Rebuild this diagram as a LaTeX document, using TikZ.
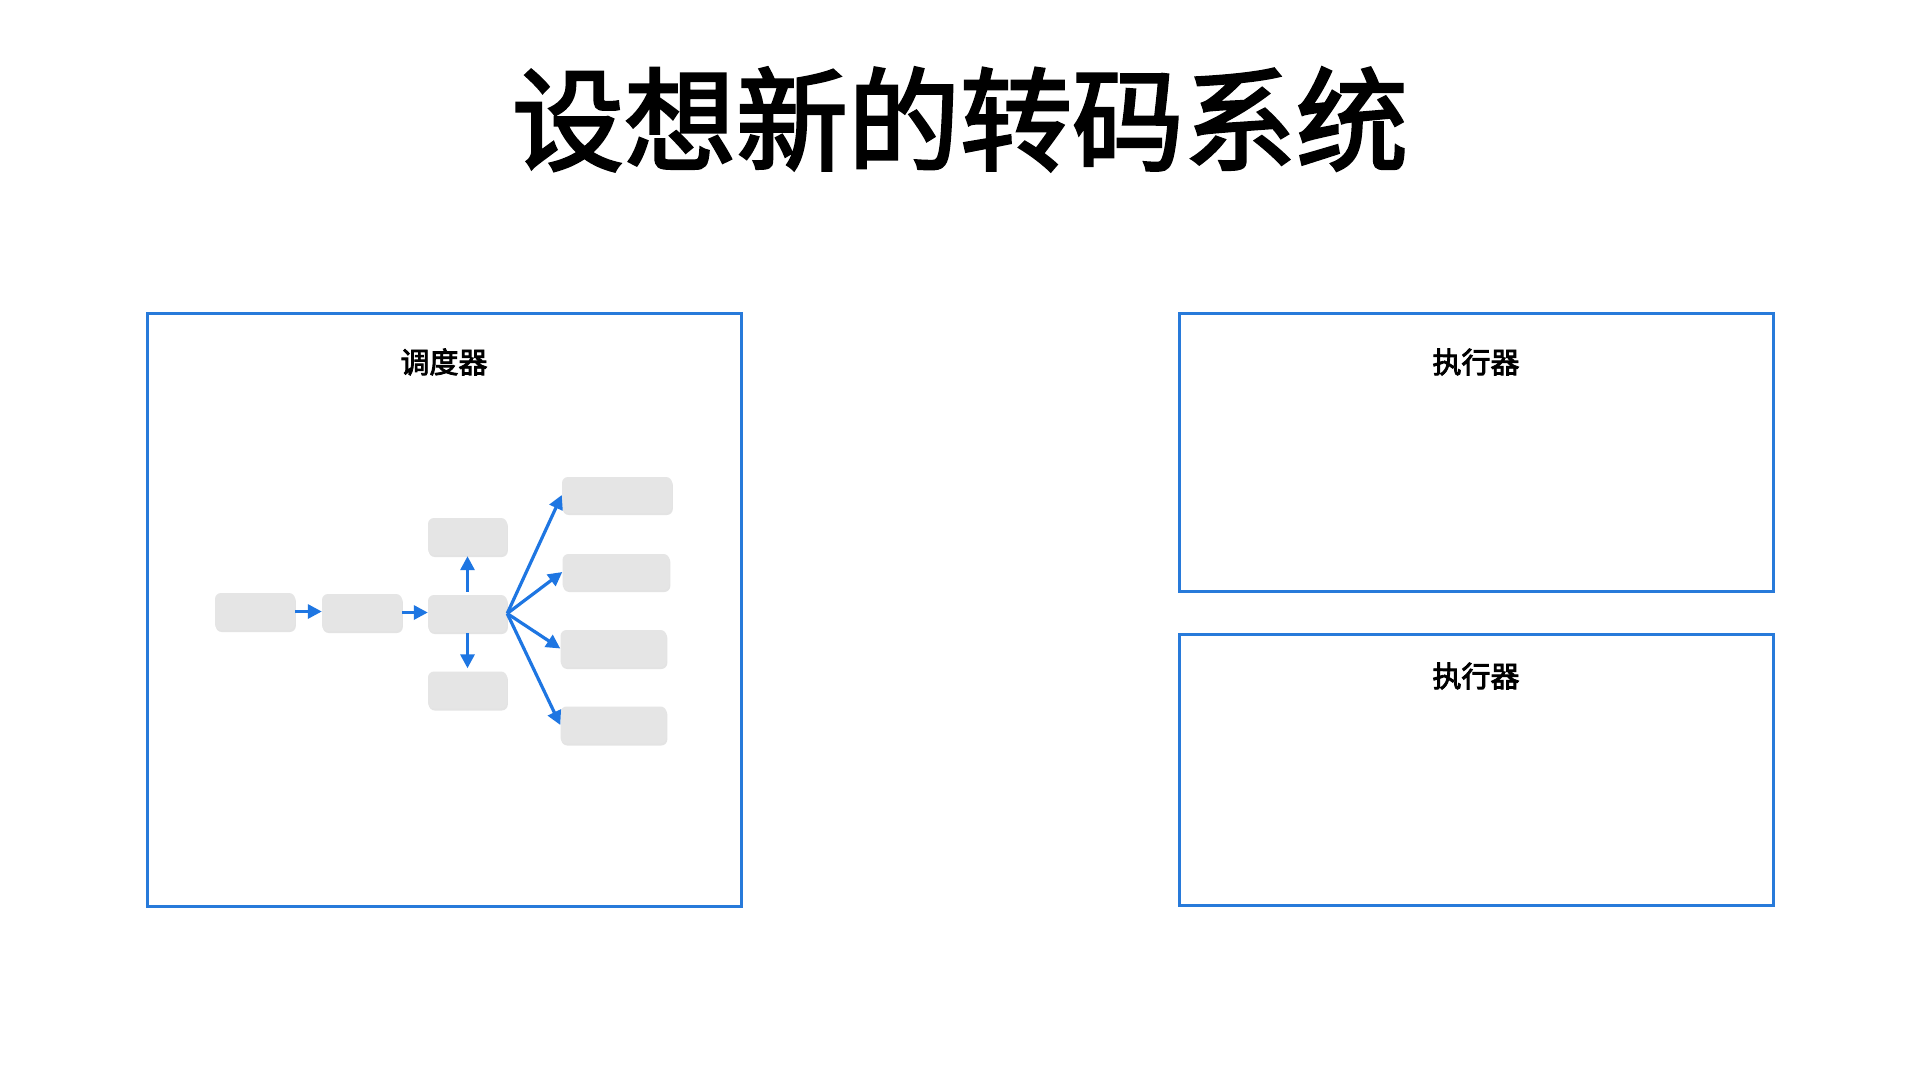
\documentclass[tikz,border=0pt]{standalone}
\usepackage{fontspec}
\newfontfamily\cjktitle{Noto Sans CJK SC}[FakeBold=2.5]
\newfontfamily\cjklabel{Noto Sans CJK SC}[FakeBold=3]
\usetikzlibrary{arrows.meta,shadows}
\definecolor{frameblue}{RGB}{40,122,218}
\definecolor{arrowblue}{RGB}{30,118,226}
\definecolor{boxgray}{RGB}{229,229,229}
\tikzset{
  frame/.style={draw=frameblue,line width=3pt},
  graybox/.style={fill=boxgray,rounded corners=6pt,inner sep=0pt,
    drop shadow={shadow xshift=0.8pt,shadow yshift=-2pt,opacity=0.18,fill=black!60}},
  flow/.style={draw=arrowblue,line width=3.2pt,-{Triangle[length=14pt,width=14pt]}},
  label/.style={font=\cjklabel\fontsize{29pt}{30pt}\selectfont,anchor=base,inner sep=0pt},
}
\begin{document}
\begin{tikzpicture}[x=1pt,y=-1pt]
\useasboundingbox (0,0) rectangle (1920,1080);
\fill[white] (0,0) rectangle (1920,1080);
% title
\node[font=\cjktitle\fontsize{112pt}{120pt}\selectfont,anchor=base,inner sep=0pt] (title) at (960,162) {设想新的转码系统};
% frames
\draw[frame] (147,313.5) rectangle (741,906);
\node[label] (sched) at (444,373) {调度器};
\draw[frame] (1179,313.5) rectangle (1773,591);
\node[label] (exec1) at (1476,373) {执行器};
\draw[frame] (1179,634) rectangle (1773,905);
\node[label] (exec2) at (1476,687) {执行器};
% small boxes
\node[graybox,minimum width=80pt,minimum height=37pt] (A) at (255,611.5) {};
\node[graybox,minimum width=80pt,minimum height=37pt] (B) at (362,612.5) {};
\node[graybox,minimum width=79pt,minimum height=37pt] (C) at (467.5,613.5) {};
\node[graybox,minimum width=79pt,minimum height=37pt] (T) at (467.5,536.5) {};
\node[graybox,minimum width=79pt,minimum height=37pt] (D) at (467.5,690) {};
\node[graybox,minimum width=110pt,minimum height=36pt] (R1) at (617,495) {};
\node[graybox,minimum width=107pt,minimum height=36pt] (R2) at (616,572) {};
\node[graybox,minimum width=106pt,minimum height=37pt] (R3) at (613.5,648.5) {};
\node[graybox,minimum width=106pt,minimum height=37pt] (R4) at (613.5,725) {};
% connectors
\draw[flow] (A.east) -- (A.east -| B.west);
\draw[flow] (B.east) -- (B.east -| C.west);
\draw[flow,shorten <=3pt,shorten >=1pt] (C.north) -- (T.south);
\draw[flow,shorten <=1pt,shorten >=3pt] (C.south) -- (D.north);
\draw[flow] (C.east) -- (R1.west);
\draw[flow] (C.east) -- (R2.west);
\draw[flow] (C.east) -- (R3.west);
\draw[flow] (C.east) -- (R4.west);
\end{tikzpicture}
\end{document}
